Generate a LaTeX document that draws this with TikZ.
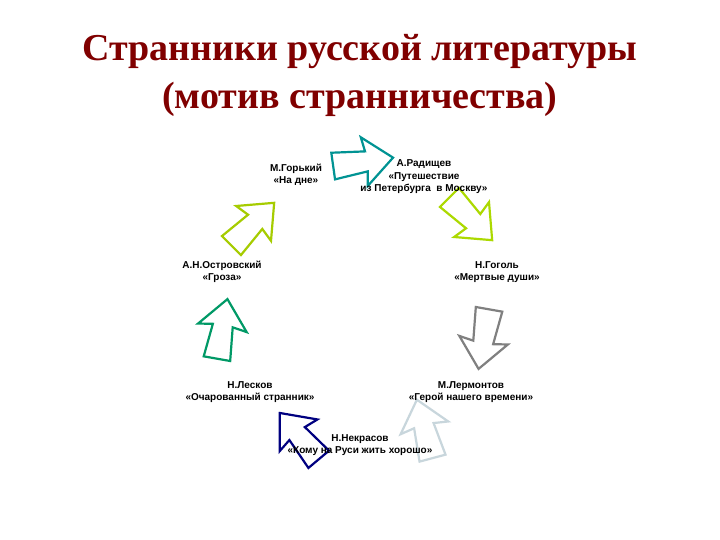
\documentclass[tikz,border=0pt]{standalone}
\usepackage{fontspec}
\setmainfont{Liberation Serif}
\newfontfamily\lab{Liberation Sans}
\begin{document}
\begin{tikzpicture}[x=1pt,y=-1pt,
  lbl/.style={font=\lab\bfseries\fontsize{10}{12.5}\selectfont,align=center,inner sep=1pt},
  ttl/.style={font=\bfseries\fontsize{38}{48}\selectfont,text=red!50!black,align=center}]
\useasboundingbox (0,0) rectangle (720,540);
\fill[white] (0,0) rectangle (720,540);
\node[ttl] (t) at (360,75) {Странники русской литературы\\(мотив странничества)};
% block arrow: center (x,y), screen rotation (clockwise), colour
\newcommand\barrow[4]{\begin{scope}[shift={(#1,#2)},rotate=-#3,scale=1.12]
\draw[#4,line width=2.2pt,line join=miter] (28,0) -- (2,22) -- (4,9) -- (-26,12) -- (-26,-12) -- (4,-9) -- (2,-22) -- cycle;\end{scope}}
\barrow{362}{162}{-8}{teal!85!cyan}
\barrow{470}{218}{45}{lime!70!olive}
\barrow{252}{225}{-45}{lime!60!olive}
\barrow{484}{338}{100}{gray}
\barrow{425}{430}{-105}{cyan!25!gray!40}
\barrow{300}{437}{-130}{blue!50!black}
\barrow{222}{330}{-80}{teal!80!green}
\node[lbl] (rad) at (424,177) {А.Радищев\\«Путешествие\\из Петербурга \ в Москву»};
\node[lbl] (gor) at (296,175) {М.Горький\\«На дне»};
\node[lbl] (ost) at (222,272) {А.Н.Островский\\«Гроза»};
\node[lbl] (gog) at (497,272) {Н.Гоголь\\«Мертвые души»};
\node[lbl] (les) at (250,392) {Н.Лесков\\«Очарованный странник»};
\node[lbl] (ler) at (471,392) {М.Лермонтов\\«Герой нашего времени»};
\node[lbl] (nek) at (360,445) {Н.Некрасов\\«Кому на Руси жить хорошо»};
\end{tikzpicture}
\end{document}
